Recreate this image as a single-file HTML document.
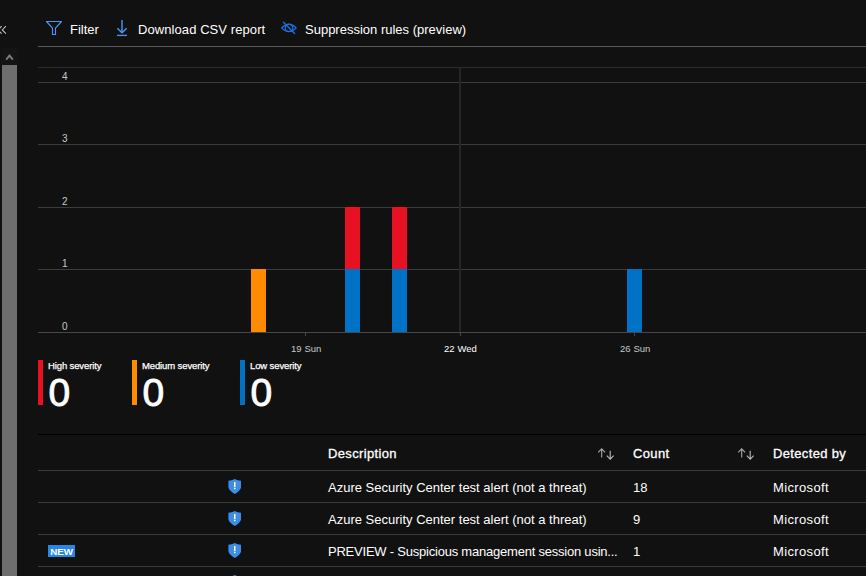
<!DOCTYPE html>
<html><head><meta charset="utf-8">
<style>
*{margin:0;padding:0;box-sizing:border-box}
html,body{width:866px;height:576px;overflow:hidden;background:#111111;font-family:"Liberation Sans",sans-serif;color:#fff}
.a{position:absolute;white-space:nowrap}
.hl{position:absolute;height:1px;left:38px;right:0}
.t13{font-size:13px;line-height:16px}
.ylab{position:absolute;font-size:10px;line-height:10px;color:#c8c8c8;left:62px;margin-top:1px}
.xlab{position:absolute;font-size:9.5px;line-height:10px;color:#c8c8c8;top:344px;letter-spacing:-0.1px;word-spacing:0.6px}
.bar{position:absolute;width:15px}
.leg{position:absolute;top:360px;width:5px;height:45px}
.legt{position:absolute;top:361px;font-size:9.5px;line-height:10px;color:#fff;letter-spacing:-0.12px;-webkit-text-stroke:0.25px #fff}
.zero{position:absolute;top:373px;margin-left:0.5px;font-size:39px;line-height:39px;color:#fff;transform:scaleX(1.0);transform-origin:0 0;-webkit-text-stroke:0.9px #fff}
.hd{-webkit-text-stroke:0.3px #fff;letter-spacing:0.35px}
.rw{letter-spacing:0px}
.sh{position:absolute;left:228px;width:13px;height:15px}
</style></head><body>
<!-- left collapse chevron -->
<svg class="a" style="left:0;top:20px" width="10" height="20" viewBox="0 0 10 20"><path d="M5.9 6.2 L2.3 9.9 L5.9 13.7" fill="none" stroke="#bdbdbd" stroke-width="1.1"/><path d="M1.6 6.2 L-2 9.9 L1.6 13.7" fill="none" stroke="#bdbdbd" stroke-width="1.1"/></svg>
<!-- scrollbar -->
<div class="a" style="left:1px;top:48px;width:17px;height:17px;background:#141414"></div>
<svg class="a" style="left:5px;top:53px" width="9" height="8" viewBox="0 0 9 8"><path d="M1.2 6.6 L4.5 2.6 L7.8 6.6" fill="none" stroke="#7d7d7d" stroke-width="1.9"/></svg>
<div class="a" style="left:2px;top:65px;width:15px;height:520px;background:#6e6e6e"></div>

<!-- toolbar -->
<svg class="a" style="left:44px;top:18px" width="20" height="20" viewBox="0 0 20 20"><path d="M2.5 3.5 H17.5 L11.5 10.2 V16.5 H8.5 V10.2 Z" fill="none" stroke="#4a98f2" stroke-width="1.15" stroke-linejoin="round"/></svg>
<div class="a t13" style="left:70px;top:22px">Filter</div>
<svg class="a" style="left:112px;top:16px" width="20" height="24" viewBox="0 0 20 24"><path d="M10 4 V16" stroke="#3a7acc" stroke-width="1.8"/><path d="M5.3 12.3 L10 16.8 L14.7 12.3" fill="none" stroke="#4a98f2" stroke-width="1.4"/><path d="M5 19.4 H15" stroke="#4a98f2" stroke-width="1.3"/></svg>
<div class="a t13" style="left:138px;top:22px;letter-spacing:0.08px">Download CSV report</div>
<svg class="a" style="left:276px;top:18px" width="26" height="20" viewBox="0 0 26 20"><path d="M5.6 9.9 Q13 2.3 20.2 9.9 Q13 17.5 5.6 9.9 Z" fill="none" stroke="#1a6fe0" stroke-width="1.3"/><ellipse cx="13" cy="9.9" rx="3.8" ry="3.6" fill="none" stroke="#1a6fe0" stroke-width="1.2"/><path d="M7.5 4.3 L18.6 15.5" stroke="#1a6fe0" stroke-width="1.4" stroke-linecap="round"/></svg>
<div class="a t13" style="left:305px;top:22px">Suppression rules (preview)</div>
<div class="hl" style="top:46px;background:#5a5a5a"></div>

<!-- chart gridlines -->
<div class="hl" style="top:67px;background:#2c2c2c"></div>
<div class="hl" style="top:82px;background:#3c3c3c"></div>
<div class="hl" style="top:144px;background:#3c3c3c"></div>
<div class="hl" style="top:207px;background:#3c3c3c"></div>
<div class="hl" style="top:269px;background:#3c3c3c"></div>
<div class="a" style="left:459px;top:67px;width:2px;height:265px;background:#262626"></div>

<!-- y labels -->
<div class="ylab" style="top:71px">4</div>
<div class="ylab" style="top:133px">3</div>
<div class="ylab" style="top:196px">2</div>
<div class="ylab" style="top:258px">1</div>
<div class="ylab" style="top:321px">0</div>

<!-- bars -->
<div class="bar" style="left:251px;top:269px;height:63px;background:#ff8c00"></div>
<div class="bar" style="left:345px;top:207px;height:62px;background:#e81123"></div>
<div class="bar" style="left:345px;top:269px;height:63px;background:#0072c6"></div>
<div class="bar" style="left:392px;top:207px;height:62px;background:#e81123"></div>
<div class="bar" style="left:392px;top:269px;height:63px;background:#0072c6"></div>
<div class="bar" style="left:627px;top:269px;height:63px;background:#0072c6"></div>

<!-- axis -->
<div class="hl" style="top:332px;background:#474747"></div>
<div class="a" style="left:305px;top:333px;width:1px;height:3px;background:#474747"></div>
<div class="a" style="left:460px;top:333px;width:1px;height:3px;background:#474747"></div>
<div class="a" style="left:634px;top:333px;width:1px;height:3px;background:#474747"></div>
<div class="xlab" style="left:291px">19 Sun</div>
<div class="xlab" style="left:444px;color:#fff">22 Wed</div>
<div class="xlab" style="left:620px">26 Sun</div>

<!-- legend -->
<div class="leg" style="left:38px;background:#e81123"></div>
<div class="legt" style="left:48px">High severity</div>
<div class="zero" style="left:48px">0</div>
<div class="leg" style="left:132px;background:#ff8c00"></div>
<div class="legt" style="left:142px">Medium severity</div>
<div class="zero" style="left:142px">0</div>
<div class="leg" style="left:240px;background:#0072c6"></div>
<div class="legt" style="left:250px">Low severity</div>
<div class="zero" style="left:250px">0</div>

<!-- table -->
<div class="hl" style="top:434px;background:#000"></div>
<div class="a t13 hd" style="left:328px;top:446px">Description</div>
<div class="a t13 hd" style="left:633px;top:446px">Count</div>
<div class="a t13 hd" style="left:773px;top:446px">Detected by</div>
<div class="hl" style="top:470px;background:#3c3c3c"></div>
<div class="hl" style="top:502px;background:#3c3c3c"></div>
<div class="hl" style="top:534px;background:#3c3c3c"></div>
<div class="hl" style="top:566px;background:#3c3c3c"></div>

<div class="a t13" style="left:328px;top:480px">Azure Security Center test alert (not a threat)</div>
<div class="a t13" style="left:633px;top:480px">18</div>
<div class="a t13" style="left:773px;top:480px;letter-spacing:0.35px">Microsoft</div>
<div class="a t13" style="left:328px;top:512px">Azure Security Center test alert (not a threat)</div>
<div class="a t13" style="left:633px;top:512px">9</div>
<div class="a t13" style="left:773px;top:512px;letter-spacing:0.35px">Microsoft</div>
<div class="a t13" style="left:328px;top:544px;letter-spacing:-0.22px">PREVIEW - Suspicious management session usin...</div>
<div class="a t13" style="left:633px;top:544px">1</div>
<div class="a t13" style="left:773px;top:544px;letter-spacing:0.35px">Microsoft</div>

<div class="a" style="left:48px;top:545px;width:27px;height:12px;background:#2a86e2;color:#fff;font-size:9.8px;line-height:13px;font-weight:bold;text-align:center;letter-spacing:-0.1px">NEW</div>

<svg class="a" style="left:592px;top:444px" width="28" height="20" viewBox="0 0 28 20"><path d="M9.7 5.2 V13.4 M6.3 8.3 L9.7 4.9 L13.1 8.3" fill="none" stroke="#a8a8a8" stroke-width="1.1"/><path d="M18.2 6.8 V14.8 M14.8 11.7 L18.2 15.1 L21.6 11.7" fill="none" stroke="#b8b8b8" stroke-width="1.1"/></svg>
<svg class="a" style="left:732px;top:444px" width="28" height="20" viewBox="0 0 28 20"><path d="M9.7 5.2 V13.4 M6.3 8.3 L9.7 4.9 L13.1 8.3" fill="none" stroke="#a8a8a8" stroke-width="1.1"/><path d="M18.2 6.8 V14.8 M14.8 11.7 L18.2 15.1 L21.6 11.7" fill="none" stroke="#b8b8b8" stroke-width="1.1"/></svg>
<svg class="a" style="left:228px;top:479px" width="13" height="15" viewBox="0 0 13 15"><path d="M6.75 0.1 Q9.7 1.7 13.1 1.8 V8.3 Q12.6 11.6 6.75 15 Q0.9 11.6 0.4 8.3 V1.8 Q3.8 1.7 6.75 0.1 Z" fill="#3b8ee8"/><rect x="6" y="3" width="1.5" height="5" fill="#fff"/><rect x="6" y="8.8" width="1.5" height="1.4" fill="#fff"/></svg>
<svg class="a" style="left:228px;top:511px" width="13" height="15" viewBox="0 0 13 15"><path d="M6.75 0.1 Q9.7 1.7 13.1 1.8 V8.3 Q12.6 11.6 6.75 15 Q0.9 11.6 0.4 8.3 V1.8 Q3.8 1.7 6.75 0.1 Z" fill="#3b8ee8"/><rect x="6" y="3" width="1.5" height="5" fill="#fff"/><rect x="6" y="8.8" width="1.5" height="1.4" fill="#fff"/></svg>
<svg class="a" style="left:228px;top:543px" width="13" height="15" viewBox="0 0 13 15"><path d="M6.75 0.1 Q9.7 1.7 13.1 1.8 V8.3 Q12.6 11.6 6.75 15 Q0.9 11.6 0.4 8.3 V1.8 Q3.8 1.7 6.75 0.1 Z" fill="#3b8ee8"/><rect x="6" y="3" width="1.5" height="5" fill="#fff"/><rect x="6" y="8.8" width="1.5" height="1.4" fill="#fff"/></svg>
<svg class="a" style="left:228px;top:575px" width="13" height="15" viewBox="0 0 13 15"><path d="M6.75 0.1 Q9.7 1.7 13.1 1.8 V8.3 Q12.6 11.6 6.75 15 Q0.9 11.6 0.4 8.3 V1.8 Q3.8 1.7 6.75 0.1 Z" fill="#3b8ee8"/></svg>
</body></html>
